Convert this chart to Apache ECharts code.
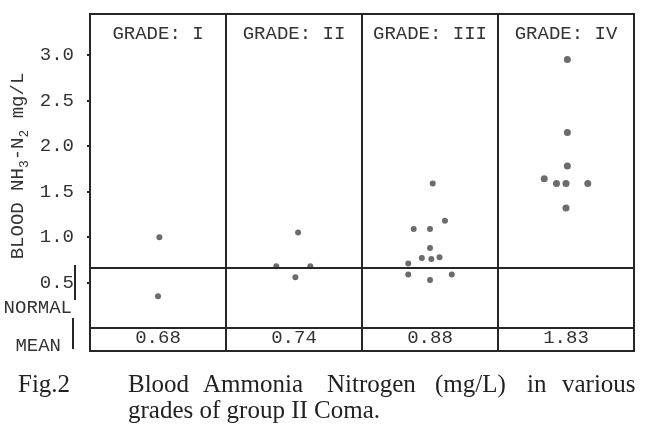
<!DOCTYPE html>
<html><head><meta charset="utf-8">
<script src="https://cdn.jsdelivr.net/npm/echarts@6/dist/echarts.min.js"></script>
<style>html,body{margin:0;padding:0;background:#fff}#c{width:650px;height:437px}</style>
</head><body><div id="c"></div>
<script>
// ---- data ----
const grades = ['GRADE: I', 'GRADE: II', 'GRADE: III', 'GRADE: IV'];
const gradeIValues = [1.00, 0.35];
const gradeIPos = [0.51, 0.50];
const gradeIIValues = [1.05, 0.68, 0.68, 0.56];
const gradeIIPos = [0.53, 0.37, 0.62, 0.51];
const gradeIIIValues = [1.59, 1.18, 1.09, 1.09, 0.88, 0.77, 0.76, 0.78, 0.71, 0.59, 0.59, 0.53];
const gradeIIIPos = [0.52, 0.61, 0.38, 0.50, 0.50, 0.44, 0.51, 0.57, 0.34, 0.34, 0.66, 0.50];
const gradeIVValues = [2.95, 2.15, 1.78, 1.64, 1.59, 1.59, 1.59, 1.32];
const gradeIVPos = [0.51, 0.51, 0.51, 0.34, 0.43, 0.50, 0.66, 0.50];
const means = [0.68, 0.74, 0.88, 1.83];
const normalLevel = 0.66;
const yTicks = [0.5, 1.0, 1.5, 2.0, 2.5, 3.0];

// ---- styling ----
const mono = 'Liberation Mono';
const serif = 'Liberation Serif';
const ink = '#262626';
const txt = '#333333';

const panels = [[gradeIPos, gradeIValues], [gradeIIPos, gradeIIValues], [gradeIIIPos, gradeIIIValues], [gradeIVPos, gradeIVValues]];
const series = panels.map(([pos, vals], g) => ({
  type: 'scatter', xAxisIndex: 0, yAxisIndex: 0, silent: true,
  symbolSize: g === 3 ? 7 : 6,
  itemStyle: { color: '#474747' },
  data: pos.map((p, i) => [g + p, vals[i]])
}));
series[0].markLine = {
  silent: true, symbol: 'none', label: { show: false },
  lineStyle: { color: ink, width: 2, type: 'solid' },
  data: [{ yAxis: 0 }, { yAxis: normalLevel }]
};

const chart = echarts.init(document.getElementById('c'));
chart.setOption({
  animation: false,
  backgroundColor: '#fff',
  grid: { left: 90, right: 16, top: 14, bottom: 86, show: true, borderColor: ink, borderWidth: 2, backgroundColor: 'transparent' },
  xAxis: [
    { type: 'value', min: 0, max: 4, interval: 1, position: 'bottom',
      axisLine: { show: false }, axisTick: { show: false }, axisLabel: { show: false },
      splitLine: { show: true, lineStyle: { color: ink, width: 2 } } },
    { type: 'category', data: grades, position: 'top', gridIndex: 0,
      axisLine: { show: false }, axisTick: { show: false }, splitLine: { show: false },
      axisLabel: { interval: 0, inside: true, margin: 10, fontFamily: mono, fontSize: 19, color: txt } },
    { type: 'category', data: means.map(m => m.toFixed(2)), position: 'bottom', gridIndex: 0,
      axisLine: { show: false }, axisTick: { show: false }, splitLine: { show: false },
      axisLabel: { interval: 0, inside: true, margin: 4, fontFamily: mono, fontSize: 19, color: txt } }
  ],
  yAxis: {
    type: 'value', min: -0.25, max: 3.45,
    axisLine: { show: true, lineStyle: { color: ink, width: 2 } },
    axisTick: { show: true, customValues: yTicks, length: 3, lineStyle: { color: ink, width: 2 } },
    axisLabel: { customValues: yTicks, formatter: v => v.toFixed(1), margin: 16, fontFamily: mono, fontSize: 19, color: txt },
    splitLine: { show: false }
  },
  series: series,
  graphic: [
    { type: 'text', x: 18, y: 166, rotation: Math.PI / 2, silent: true,
      style: { text: '{a|BLOOD NH}{s|3}{a|-N}{s|2}{a| mg/L}', align: 'center', verticalAlign: 'middle', fill: txt,
        rich: { a: { fontFamily: mono, fontSize: 19, lineHeight: 26, verticalAlign: 'middle', fill: txt },
                s: { fontFamily: mono, fontSize: 13, lineHeight: 26, verticalAlign: 'bottom', fill: txt } } } },
    { type: 'text', x: 72, y: 308, silent: true,
      style: { text: 'NORMAL', fontFamily: mono, fontSize: 19, fill: txt, align: 'right', verticalAlign: 'middle' } },
    { type: 'text', x: 61, y: 346, silent: true,
      style: { text: 'MEAN', fontFamily: mono, fontSize: 19, fill: txt, align: 'right', verticalAlign: 'middle' } },
    { type: 'line', silent: true, shape: { x1: 75, y1: 265, x2: 75, y2: 300 }, style: { stroke: ink, lineWidth: 2 } },
    { type: 'line', silent: true, shape: { x1: 73, y1: 318, x2: 73, y2: 349 }, style: { stroke: ink, lineWidth: 2 } },
    { type: 'text', x: 18, y: 385, silent: true, style: { text: 'Fig.2', fontFamily: serif, fontSize: 25, fill: '#222', align: 'left', verticalAlign: 'middle' } },
    { type: 'text', x: 128, y: 385, silent: true, style: { text: 'Blood', fontFamily: serif, fontSize: 25, fill: '#222', align: 'left', verticalAlign: 'middle' } },
    { type: 'text', x: 203, y: 385, silent: true, style: { text: 'Ammonia', fontFamily: serif, fontSize: 25, fill: '#222', align: 'left', verticalAlign: 'middle' } },
    { type: 'text', x: 327, y: 385, silent: true, style: { text: 'Nitrogen', fontFamily: serif, fontSize: 25, fill: '#222', align: 'left', verticalAlign: 'middle' } },
    { type: 'text', x: 435, y: 385, silent: true, style: { text: '(mg/L)', fontFamily: serif, fontSize: 25, fill: '#222', align: 'left', verticalAlign: 'middle' } },
    { type: 'text', x: 527, y: 385, silent: true, style: { text: 'in', fontFamily: serif, fontSize: 25, fill: '#222', align: 'left', verticalAlign: 'middle' } },
    { type: 'text', x: 562, y: 385, silent: true, style: { text: 'various', fontFamily: serif, fontSize: 25, fill: '#222', align: 'left', verticalAlign: 'middle' } },
    { type: 'text', x: 128, y: 411, silent: true, style: { text: 'grades of group II Coma.', fontFamily: serif, fontSize: 25, fill: '#222', align: 'left', verticalAlign: 'middle' } }
  ]
});
</script></body></html>
